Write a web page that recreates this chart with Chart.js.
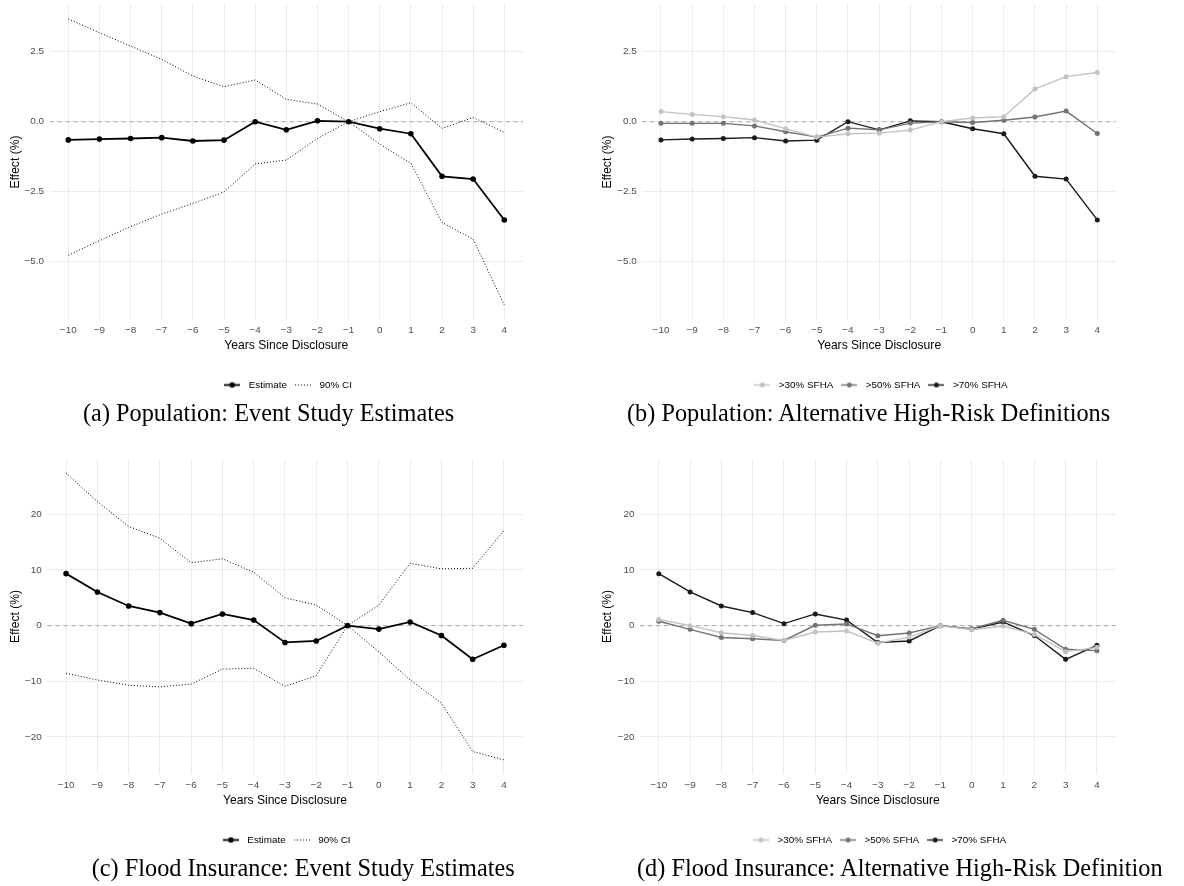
<!DOCTYPE html>
<html><head><meta charset="utf-8">
<script src="https://cdn.jsdelivr.net/npm/chart.js@4.4.1/dist/chart.umd.min.js"></script>
<style>
html,body{margin:0;padding:0;background:#fff;width:1184px;height:886px;overflow:hidden;}
canvas{position:absolute;}
.cap{position:absolute;font-family:"Liberation Serif",serif;font-size:24.3px;line-height:24px;white-space:nowrap;color:#000;}
</style></head><body>
<canvas id="ca" width="592" height="400" style="left:0;top:0"></canvas>
<canvas id="cb" width="592" height="400" style="left:592px;top:0"></canvas>
<canvas id="cc" width="592" height="401" style="left:0;top:454px"></canvas>
<canvas id="cd" width="592" height="401" style="left:592px;top:454px"></canvas>
<div class="cap" style="left:83px;top:401.4px">(a) Population: Event Study Estimates</div>
<div class="cap" style="left:627px;top:401.4px">(b) Population: Alternative High-Risk Definitions</div>
<div class="cap" style="left:91.7px;top:856.4px">(c) Flood Insurance: Event Study Estimates</div>
<div class="cap" style="left:637px;top:856.4px">(d) Flood Insurance: Alternative High-Risk Definition</div>
<script>
// ---------- data ----------
const years = [-10,-9,-8,-7,-6,-5,-4,-3,-2,-1,0,1,2,3,4];
const yearLabels = ['\u221210','\u22129','\u22128','\u22127','\u22126','\u22125','\u22124','\u22123','\u22122','\u22121','0','1','2','3','4'];
const popTicks = [-5,-2.5,0,2.5];
const popTickLabels = ['\u22125.0','\u22122.5','0.0','2.5'];
const insTicks = [-20,-10,0,10,20];
const insTickLabels = ['\u221220','\u221210','0','10','20'];

const popEst   = [-0.65,-0.62,-0.60,-0.57,-0.69,-0.66,0.00,-0.29,0.03,0,-0.25,-0.43,-1.95,-2.05,-3.51];
const popUpper = [3.67,3.18,2.70,2.23,1.63,1.25,1.49,0.80,0.63,0,0.36,0.68,-0.24,0.15,-0.38];
const popLower = [-4.77,-4.25,-3.75,-3.30,-2.92,-2.51,-1.51,-1.37,-0.60,0,-0.80,-1.49,-3.60,-4.20,-6.55];

const pop30 = [0.36,0.26,0.18,0.06,-0.25,-0.55,-0.43,-0.41,-0.30,0,0.13,0.18,1.17,1.61,1.76];
const pop50 = [-0.06,-0.06,-0.06,-0.15,-0.36,-0.55,-0.23,-0.29,-0.05,0,-0.03,0.05,0.17,0.38,-0.42];
const pop70 = [-0.65,-0.62,-0.60,-0.57,-0.69,-0.66,0.00,-0.29,0.03,0,-0.25,-0.43,-1.95,-2.05,-3.51];

const insEst   = [9.34,6.05,3.53,2.34,0.36,2.10,1.00,-3.02,-2.75,0,-0.62,0.66,-1.78,-6.05,-3.53];
const insUpper = [27.4,22.3,17.8,15.7,11.3,12.0,9.6,5.0,3.7,0,3.7,11.2,10.2,10.3,17.1];
const insLower = [-8.56,-9.76,-10.7,-11.0,-10.5,-7.8,-7.7,-10.9,-9.0,0,-4.7,-9.75,-13.9,-22.6,-24.1];

const ins30 = [1.10,0.00,-1.27,-1.76,-2.67,-1.15,-0.97,-3.15,-2.06,0,-0.73,-0.06,-1.58,-4.67,-3.90];
const ins50 = [0.79,-0.67,-2.12,-2.36,-2.67,0.06,0.30,-1.82,-1.33,0,-0.55,0.97,-0.67,-4.25,-4.49];
const ins70 = [9.34,6.05,3.53,2.34,0.36,2.10,1.00,-3.02,-2.75,0,-0.62,0.66,-1.78,-6.05,-3.53];

const seriesNames = ['Estimate','90% CI'];
const altNames = ['>30% SFHA','>50% SFHA','>70% SFHA'];

// ---------- styling ----------
const FONT = 'Liberation Sans';
const C30 = '#c2c2c2', C50 = '#737373', C70 = '#1a1a1a';

function pts(vals){ return years.map((x,i)=>({x:x, y:vals[i]})); }

function keyIcon(color, width, dash, dot){
  const c = document.createElement('canvas'); c.width = 16; c.height = 9;
  const g = c.getContext('2d');
  g.strokeStyle = color; g.lineWidth = width; g.setLineDash(dash || []);
  g.beginPath(); g.moveTo(0,4.5); g.lineTo(16,4.5); g.stroke();
  if (dot){ g.setLineDash([]); g.fillStyle = color; g.beginPath(); g.arc(8,4.5,dot,0,Math.PI*2); g.fill(); }
  return c;
}

const zeroLine = {
  id:'zeroLine',
  beforeDatasetsDraw(chart){
    const {ctx, chartArea:a, scales} = chart;
    const py = scales.y.getPixelForValue(0);
    ctx.save(); ctx.strokeStyle = '#a6a6a6'; ctx.lineWidth = 1; ctx.setLineDash([4,4]);
    ctx.beginPath(); ctx.moveTo(a.left,py); ctx.lineTo(a.right,py); ctx.stroke(); ctx.restore();
  }
};

function makeChart(id, p){
  return new Chart(document.getElementById(id), {
    type:'line',
    data:{ datasets:p.datasets },
    plugins:[zeroLine],
    options:{
      responsive:false, animation:false, events:[],
      layout:{ padding:{ top:p.top, bottom:0.1, left:0, right:p.right } },
      plugins:{
        tooltip:{enabled:false},
        legend:{
          position:'bottom', fullSize:false, align:'center',
          labels:{
            usePointStyle:true, pointStyleWidth:23, padding:4.5, color:'#000',
            font:{family:FONT, size:9.9},
            generateLabels:()=>p.legend.map(it=>({text:it.text, pointStyle:it.icon, fillStyle:'#000', strokeStyle:'#000', lineWidth:0, hidden:false, fontColor:'#000'}))
          }
        }
      },
      scales:{
        x:{
          type:'linear', min:-10.6, max:4.6,
          afterBuildTicks:s=>{ s.ticks = years.map(v=>({value:v})); },
          afterFit:s=>{ s.height = 56.2; s.paddingLeft = 0; s.paddingRight = 0; },
          ticks:{ callback:v=>yearLabels[years.indexOf(v)], color:'#4d4d4d', font:{family:FONT,size:9.9}, padding:5, maxRotation:0, autoSkip:false },
          grid:{ color:'#ebebeb', lineWidth:1, drawTicks:false },
          border:{ display:false },
          title:{ display:true, text:'Years Since Disclosure', color:'#000', font:{family:FONT,size:12.1}, padding:{top:0,bottom:22.9} }
        },
        y:{
          type:'linear', min:p.yMin, max:p.yMax,
          afterBuildTicks:s=>{ s.ticks = p.yTicks.map(v=>({value:v})); },
          afterFit:s=>{ s.width = p.axisW; s.paddingTop = 0; s.paddingBottom = 0; },
          ticks:{ callback:v=>p.yLabels[p.yTicks.indexOf(v)], color:'#4d4d4d', font:{family:FONT,size:9.9}, padding:5.5 },
          grid:{ color:'#ebebeb', lineWidth:1, drawTicks:false },
          border:{ display:false },
          title:{ display:true, text:'Effect (%)', color:'#000', font:{family:FONT,size:12.1}, padding:{top:8.5,bottom:0} }
        }
      }
    }
  });
}

function estSets(est, up, lo){
  return [
    {label:seriesNames[0], data:pts(est), borderColor:'#000', backgroundColor:'#000', borderWidth:1.8, pointRadius:2.8, pointBorderWidth:0, pointBackgroundColor:'#000', tension:0},
    {label:seriesNames[1], data:pts(up), borderColor:'#000', borderWidth:1, borderDash:[1,2], pointRadius:0, tension:0},
    {label:seriesNames[1], data:pts(lo), borderColor:'#000', borderWidth:1, borderDash:[1,2], pointRadius:0, tension:0}
  ];
}
function altSets(a,b,c){
  const mk=(name,vals,col)=>({label:name, data:pts(vals), borderColor:col, backgroundColor:col, borderWidth:1.4, pointRadius:2.5, pointBorderWidth:0, pointBackgroundColor:col, tension:0});
  return [mk(altNames[0],a,C30), mk(altNames[1],b,C50), mk(altNames[2],c,C70)];
}
const estLegend = [{text:seriesNames[0], icon:keyIcon('#000',1.8,null,2.8)},{text:seriesNames[1], icon:keyIcon('#000',1,[1,2],0)}];
const altLegend = [{text:altNames[0], icon:keyIcon(C30,1.4,null,2.5)},{text:altNames[1], icon:keyIcon(C50,1.4,null,2.5)},{text:altNames[2], icon:keyIcon(C70,1.4,null,2.5)}];

makeChart('ca',{datasets:estSets(popEst,popUpper,popLower), legend:estLegend, yMin:-7.06, yMax:4.18, yTicks:popTicks, yLabels:popTickLabels, axisW:49.6, right:69, top:4.7});
makeChart('cb',{datasets:altSets(pop30,pop50,pop70), legend:altLegend, yMin:-7.06, yMax:4.18, yTicks:popTicks, yLabels:popTickLabels, axisW:50.3, right:68, top:4.7});
makeChart('cc',{datasets:estSets(insEst,insUpper,insLower), legend:estLegend, yMin:-26.7, yMax:30.0, yTicks:insTicks, yLabels:insTickLabels, axisW:47.3, right:69.3, top:4.6});
makeChart('cd',{datasets:altSets(ins30,ins50,ins70), legend:altLegend, yMin:-26.7, yMax:30.0, yTicks:insTicks, yLabels:insTickLabels, axisW:48, right:68.3, top:4.6});
</script>
</body></html>
